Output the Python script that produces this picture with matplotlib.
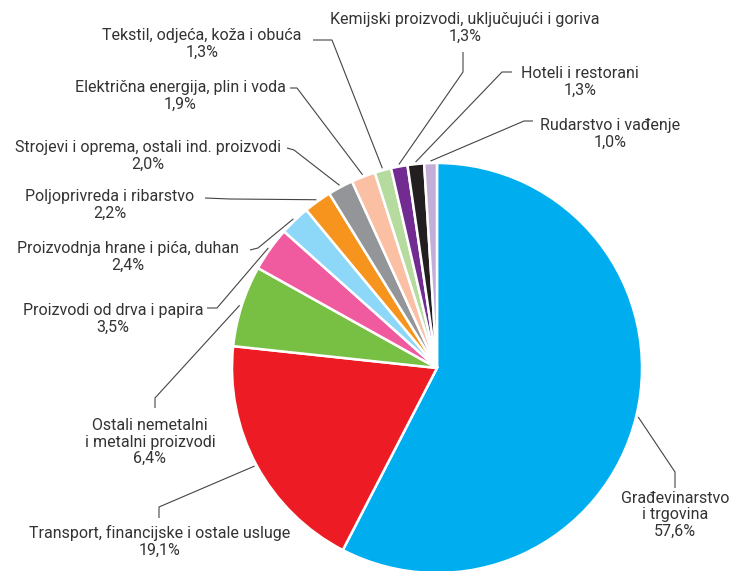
import numpy as np
import matplotlib
matplotlib.use("Agg")
from matplotlib import pyplot as plt

plt.rcParams['font.family'] = ['Roboto', 'DejaVu Sans']

# slices, clockwise from the top
sectors = ["Građevinarstvo\ni trgovina",
           "Transport, financijske i ostale usluge",
           "Ostali nemetalni\ni metalni proizvodi",
           "Proizvodi od drva i papira",
           "Proizvodnja hrane i pića, duhan",
           "Poljoprivreda i ribarstvo",
           "Strojevi i oprema, ostali ind. proizvodi",
           "Električna energija, plin i voda",
           "Tekstil, odjeća, koža i obuća",
           "Kemijski proizvodi, uključujući i goriva",
           "Hoteli i restorani",
           "Rudarstvo i vađenje"]
shares = [57.6, 19.1, 6.4, 3.5, 2.4, 2.2, 2.0, 1.9, 1.3, 1.3, 1.3, 1.0]
pct_labels = ["57,6%", "19,1%", "6,4%", "3,5%", "2,4%", "2,2%", "2,0%", "1,9%",
              "1,3%", "1,3%", "1,3%", "1,0%"]
colors = ["#00aeef", "#ed1c24", "#77c043", "#f05a9e", "#8dd8f8", "#f7941d",
          "#939598", "#fbbfa4", "#b5db9e", "#722b90", "#231f20", "#c2aed6"]

W, H = 729, 571
cx, cy, R = 437, H - 368, 205

# label layout in pixel coords (y from top): text centre, start of leader, elbow
layout = [
    ((675, 515), (675, 488), (675, 472)),
    ((160, 541), (159, 518), (159, 507)),
    ((150, 442), (155, 408), (155, 398)),
    ((113, 319), (207, 308), (217, 308)),
    ((128, 257), (250, 250), (258, 248)),
    ((110, 205), (205, 198), (230, 199)),
    ((148, 156), (287, 148), (294, 150)),
    ((180, 96), (290, 88), (297, 88)),
    ((202, 44), (313, 40), (332, 40)),
    ((465, 28), (463, 52), (463, 72)),
    ((580, 82), (512, 72), (502, 72)),
    ((610, 134), (533, 121), (524, 121)),
]

fig = plt.figure(figsize=(W / 100, H / 100), dpi=100)
ax = fig.add_axes([0, 0, 1, 1])

wedges, _ = ax.pie(shares, colors=colors, startangle=90, counterclock=False,
                   center=(cx, cy), radius=R,
                   wedgeprops=dict(edgecolor='white', linewidth=1.8))
ax.set_xlim(0, W)
ax.set_ylim(0, H)
ax.set_aspect('equal')
ax.axis('off')

for w, name, pct, (tpos, p0, p1) in zip(wedges, sectors, pct_labels, layout):
    ang = np.deg2rad((w.theta1 + w.theta2) / 2)
    ax_, ay_ = cx + R * 1.01 * np.cos(ang), cy + R * 1.01 * np.sin(ang)
    ax.plot([p0[0], p1[0], ax_], [H - p0[1], H - p1[1], ay_],
            color='#444444', lw=0.8, solid_capstyle='butt')
    ax.text(tpos[0], H - tpos[1], name + "\n" + pct, ha='center', va='center',
            multialignment='center', fontsize=11.5, color='#333333',
            linespacing=1.15)

fig.savefig("out.png", dpi=100)
